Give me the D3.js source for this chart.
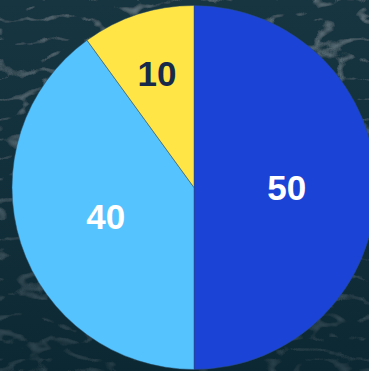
<!DOCTYPE html>
<html>
<head>
<meta charset="utf-8">
<script src="https://cdn.jsdelivr.net/npm/d3@7"></script>
<style>
  html, body { margin: 0; padding: 0; background: #102c37; overflow: hidden; }
  svg { display: block; }
</style>
</head>
<body>
<svg id="chart" width="369" height="371"></svg>
<script>
// Slice data, in drawing order (clockwise from 12 o'clock)
const categories = ["A", "B", "C"];
const values = [50, 40, 10];
const sliceColors = ["#1b44d6", "#54c3fe", "#ffe546"];
const labelColors = ["#ffffff", "#ffffff", "#172a4a"];

const W = 369, H = 371;
const cx = 194, cy = 187.5, radius = 182;

const svg = d3.select("#chart");
const defs = svg.append("defs");

// Dark rippled water backdrop
const f = defs.append("filter").attr("id", "water")
  .attr("x", 0).attr("y", 0).attr("width", "100%").attr("height", "100%")
  .attr("filterUnits", "userSpaceOnUse");
f.append("feTurbulence").attr("type", "turbulence")
  .attr("baseFrequency", "0.022 0.05").attr("numOctaves", 3).attr("seed", 11)
  .attr("result", "noise");
f.append("feGaussianBlur").attr("in", "noise").attr("stdDeviation", 1.1).attr("result", "soft");
// ridges of the turbulence (low values) become faint light streaks
f.append("feColorMatrix").attr("in", "soft").attr("type", "matrix")
  .attr("values",
    "0 0 0 0 0.33 " +
    "0 0 0 0 0.44 " +
    "0 0 0 0 0.50 " +
    "-2.2 0 0 0 0.42")
  .attr("result", "hi");
f.append("feFlood").attr("flood-color", "#17353f").attr("result", "base");
f.append("feMerge").selectAll("feMergeNode")
  .data(["base", "hi"]).enter().append("feMergeNode").attr("in", d => d);

const shade = defs.append("linearGradient").attr("id", "shade")
  .attr("x1", 0).attr("y1", 0).attr("x2", 0).attr("y2", 1);
shade.append("stop").attr("offset", 0).attr("stop-color", "#0a2430").attr("stop-opacity", 0.0);
shade.append("stop").attr("offset", 1).attr("stop-color", "#05202a").attr("stop-opacity", 0.6);

svg.append("rect").attr("width", W).attr("height", H).attr("filter", "url(#water)");
svg.append("rect").attr("width", W).attr("height", H).attr("fill", "url(#shade)");

const pie = d3.pie().sort(null).value(d => d)(values);
const arc = d3.arc().innerRadius(0).outerRadius(radius);

const g = svg.append("g").attr("transform", `translate(${cx},${cy})`);

g.selectAll("path.slice")
  .data(pie)
  .enter().append("path")
  .attr("class", "slice")
  .attr("d", arc)
  .attr("fill", (d, i) => sliceColors[i])
  .attr("stroke", "#2b4a63")
  .attr("stroke-opacity", 0.6)
  .attr("stroke-width", 0.8);

// Labels sit along each slice's mid-angle; narrow slices push them outward
function labelPos(d) {
  const frac = (d.endAngle - d.startAngle) / (2 * Math.PI);
  const rr = radius * (frac < 0.15 ? 0.66 : 0.51);
  const a = (d.startAngle + d.endAngle) / 2;
  return [Math.sin(a) * rr, -Math.cos(a) * rr];
}

g.selectAll("text.val")
  .data(pie)
  .enter().append("text")
  .attr("class", "val")
  .attr("x", d => labelPos(d)[0])
  .attr("y", d => labelPos(d)[1])
  .attr("dy", "0.36em")
  .attr("text-anchor", "middle")
  .attr("font-family", "'Liberation Sans', Arial, sans-serif")
  .attr("font-weight", "bold")
  .attr("font-size", 35)
  .attr("fill", (d, i) => labelColors[i])
  .text(d => d.data);
</script>
</body>
</html>
